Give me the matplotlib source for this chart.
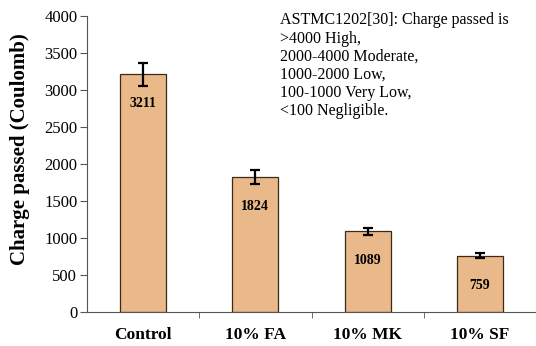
import matplotlib
matplotlib.use("Agg")
import matplotlib.pyplot as plt
import numpy as np

plt.rcParams['font.family'] = ['Liberation Serif', 'DejaVu Serif']

mixes = ["Control", "10% FA", "10% MK", "10% SF"]
charge = [3211, 1824, 1089, 759]
charge_err = [160, 90, 50, 35]

note = ("ASTMC1202[30]: Charge passed is\n"
        ">4000 High,\n"
        "2000-4000 Moderate,\n"
        "1000-2000 Low,\n"
        "100-1000 Very Low,\n"
        "<100 Negligible.")

fig = plt.figure(figsize=(5.36, 3.46), dpi=100)
ax = fig.add_axes([87/536, 34/346, 449/536, 296/346])

x = np.arange(len(mixes))
ax.bar(x, charge, width=0.41, color="#E9B98A", edgecolor="#3a2a1a", linewidth=0.9)
ax.errorbar(x, charge, yerr=charge_err, fmt="none", ecolor="black",
            elinewidth=1.6, capsize=3.5, capthick=1.6)

# value printed just under the top of each bar
for xi, v in zip(x, charge):
    ax.annotate(str(v), (xi, v), xytext=(0, -21), textcoords="offset points",
                ha="center", va="center", fontsize=10, fontweight="bold")

ax.set_xlim(-0.5, 3.5)
ax.set_ylim(0, 4000)
ax.set_yticks(np.arange(0, 4001, 500))
ax.set_xticks(x)
ax.set_xticklabels(mixes, fontweight="bold", fontsize=12.5)
ax.set_xticks(np.arange(0.5, 4, 1), minor=True)
ax.tick_params(axis="x", which="major", length=0, pad=11)
ax.tick_params(axis="x", which="minor", length=4, direction="out", color="#555555")
ax.tick_params(axis="y", length=5, direction="out", labelsize=12, color="#555555", pad=2)
ax.set_ylabel("Charge passed (Coulomb)", fontweight="bold", fontsize=15)
ax.yaxis.set_label_coords(-0.128, 0.55)

for side in ("top", "right"):
    ax.spines[side].set_visible(False)
for side in ("left", "bottom"):
    ax.spines[side].set_color("#555555")

ax.text(0.43, 1.012, note, transform=ax.transAxes, ha="left", va="top",
        fontsize=11.5, linespacing=1.18)

fig.savefig("out.png", dpi=100)
